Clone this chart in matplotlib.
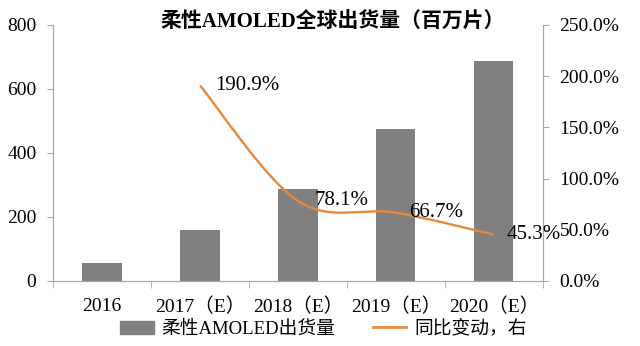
import matplotlib.pyplot as plt
import numpy as np
from matplotlib.path import Path
from matplotlib.patches import PathPatch
from matplotlib.lines import Line2D
from matplotlib.patches import Patch

years = ['2016', '2017（E）', '2018（E）', '2019（E）', '2020（E）']
shipments = [56, 159, 287, 475, 688]
growth_years = [1, 2, 3, 4]
growth = [190.9, 78.1, 66.7, 45.3]
growth_labels = ['190.9%', '78.1%', '66.7%', '45.3%']

fonts = ['Liberation Serif', 'Noto Sans CJK SC', 'DejaVu Sans']
plt.rcParams['font.family'] = fonts

bar_color = '#808080'
line_color = '#E8883A'
axis_color = '#A6A6A6'

fig = plt.figure(figsize=(6.4, 3.46), dpi=100)
ax = fig.add_axes([0.083, 0.188, 0.765, 0.74])
ax2 = ax.twinx()

x = np.arange(len(years))
ax.bar(x, shipments, width=0.4, color=bar_color, zorder=2)
ax.set_xlim(-0.5, 4.5)
ax.set_ylim(0, 800)
ax.set_yticks([0, 200, 400, 600, 800])
ax.set_xticks(x)
ax.set_xticklabels(years, fontsize=14)
ax.set_xticks(np.arange(-0.5, 5, 1), minor=True)
ax.tick_params(axis='x', which='major', length=0, pad=12)
ax.tick_params(axis='x', which='minor', length=5, color=axis_color, direction='out')
ax.tick_params(axis='y', length=4, color=axis_color, labelsize=14, pad=8)

# smoothed line (Catmull-Rom -> Bezier control points)
px = np.array(growth_years, dtype=float)
py = np.array(growth, dtype=float)
verts = [(px[0], py[0])]
codes = [Path.MOVETO]
for i in range(len(px) - 1):
    p0 = np.array([px[max(i - 1, 0)], py[max(i - 1, 0)]])
    p1 = np.array([px[i], py[i]])
    p2 = np.array([px[i + 1], py[i + 1]])
    p3 = np.array([px[min(i + 2, len(px) - 1)], py[min(i + 2, len(px) - 1)]])
    c1 = p1 + (p2 - p0) / 6
    c2 = p2 - (p3 - p1) / 6
    verts += [tuple(c1), tuple(c2), tuple(p2)]
    codes += [Path.CURVE4] * 3
ax2.add_patch(PathPatch(Path(verts, codes), facecolor='none', edgecolor=line_color,
                        lw=1.7, zorder=3))
ax2.set_ylim(0, 250)
ax2.set_yticks([0, 50, 100, 150, 200, 250])
ax2.set_yticklabels(['0.0%', '50.0%', '100.0%', '150.0%', '200.0%', '250.0%'])
ax2.tick_params(axis='y', length=4, color=axis_color, labelsize=14, pad=8)

offsets = [0.16, 0.17, 0.14, 0.13]
for gx, gy, lab, dx in zip(growth_years, growth, growth_labels, offsets):
    ax2.text(gx + dx, gy, lab, fontsize=15, ha='left', va='center', zorder=4)

for a in (ax, ax2):
    a.spines['top'].set_visible(False)
    for s in ('left', 'right', 'bottom'):
        a.spines[s].set_color(axis_color)

fig.text(0.52, 0.935, '柔性AMOLED全球出货量（百万片）', fontsize=15, fontweight='bold',
         ha='center', va='center', family=['Liberation Serif', 'Noto Sans CJK SC'])

handles = [Patch(color=bar_color), Line2D([0], [0], color=line_color, lw=2)]
fig.legend(handles, ['柔性AMOLED出货量', '同比变动，右'], loc='lower center',
           bbox_to_anchor=(0.505, -0.025), ncol=2, frameon=False, fontsize=13.5,
           handlelength=1.8, handletextpad=0.4, columnspacing=2.0)

fig.savefig('out.png', dpi=100)
